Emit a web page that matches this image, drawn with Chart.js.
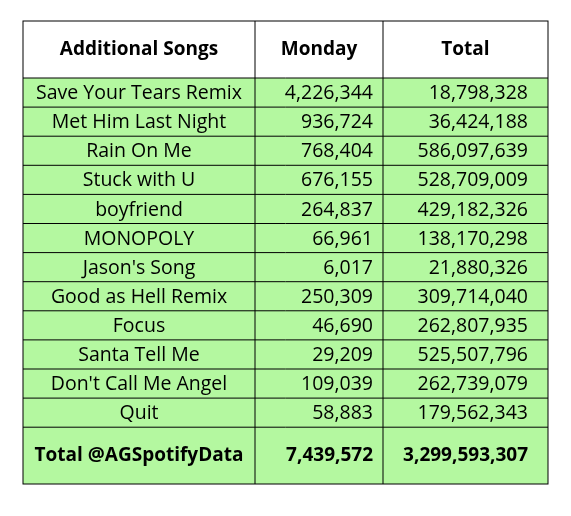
<!DOCTYPE html><html><head><script src="https://cdn.jsdelivr.net/npm/chart.js@4"></script>
<style>html,body{margin:0;background:#fff}#w{width:571px;height:516px}</style></head><body><div id="w"><canvas id="c"></canvas></div>
<script>
const headers=["Additional Songs","Monday","Total"];
const songs=["Save Your Tears Remix","Met Him Last Night","Rain On Me","Stuck with U","boyfriend","MONOPOLY","Jason's Song","Good as Hell Remix","Focus","Santa Tell Me","Don't Call Me Angel","Quit"];
const monday=[4226344,936724,768404,676155,264837,66961,6017,250309,46690,29209,109039,58883];
const total=[18798328,36424188,586097639,528709009,429182326,138170298,21880326,309714040,262807935,525507796,262739079,179562343];
const totalLabel="Total @AGSpotifyData";
const mondayTotal=7439572, grandTotal=3299593307;
const fmt=v=>v.toLocaleString('en-US');
const tablePlugin={id:'table',afterDraw(chart){
 const ctx=chart.ctx;const x0=23,x1=255,x2=383,x3=548;const yH=21,yR=78,rh=29.1,yT=yR+rh*songs.length,yE=484;
 ctx.save();
 ctx.fillStyle='#b4f8a0';ctx.fillRect(x0,yR,x3-x0,yE-yR);
 ctx.strokeStyle='#000';ctx.lineWidth=1;
 ctx.strokeRect(x0,yH,x3-x0,yE-yH);
 ctx.beginPath();[x1,x2].forEach(x=>{ctx.moveTo(x,yH);ctx.lineTo(x,yE);});
 ctx.moveTo(x0,yR);ctx.lineTo(x3,yR);
 for(let i=1;i<=songs.length;i++){const y=yR+rh*i;ctx.moveTo(x0,y);ctx.lineTo(x3,y);}
 ctx.stroke();
 ctx.fillStyle='#000';ctx.textBaseline='middle';
 ctx.font='bold 19px "Open Sans"';ctx.textAlign='center';
 const hy=(yH+yR)/2;ctx.fillText(headers[0],(x0+x1)/2,hy);ctx.fillText(headers[1],(x1+x2)/2,hy);ctx.fillText(headers[2],(x2+x3)/2,hy);
 ctx.font='19.5px "Open Sans"';
 songs.forEach((s,i)=>{const y=yR+rh*(i+0.5)+1;ctx.textAlign='center';ctx.fillText(s,(x0+x1)/2,y);ctx.textAlign='right';ctx.fillText(fmt(monday[i]),x2-10,y);ctx.fillText(fmt(total[i]),x3-20,y);});
 ctx.font='bold 19px "Open Sans"';const ty=(yT+yE)/2;
 ctx.textAlign='center';ctx.fillText(totalLabel,(x0+x1)/2,ty);ctx.textAlign='right';ctx.fillText(fmt(mondayTotal),x2-10,ty);ctx.fillText(fmt(grandTotal),x3-20,ty);
 ctx.restore();}};
new Chart(document.getElementById('c'),{type:'bar',data:{labels:songs,datasets:[{data:monday,hidden:true}]},
options:{responsive:true,maintainAspectRatio:false,animation:false,plugins:{legend:{display:false},tooltip:{enabled:false}},scales:{x:{display:false},y:{display:false}}},plugins:[tablePlugin]});
</script></body></html>
